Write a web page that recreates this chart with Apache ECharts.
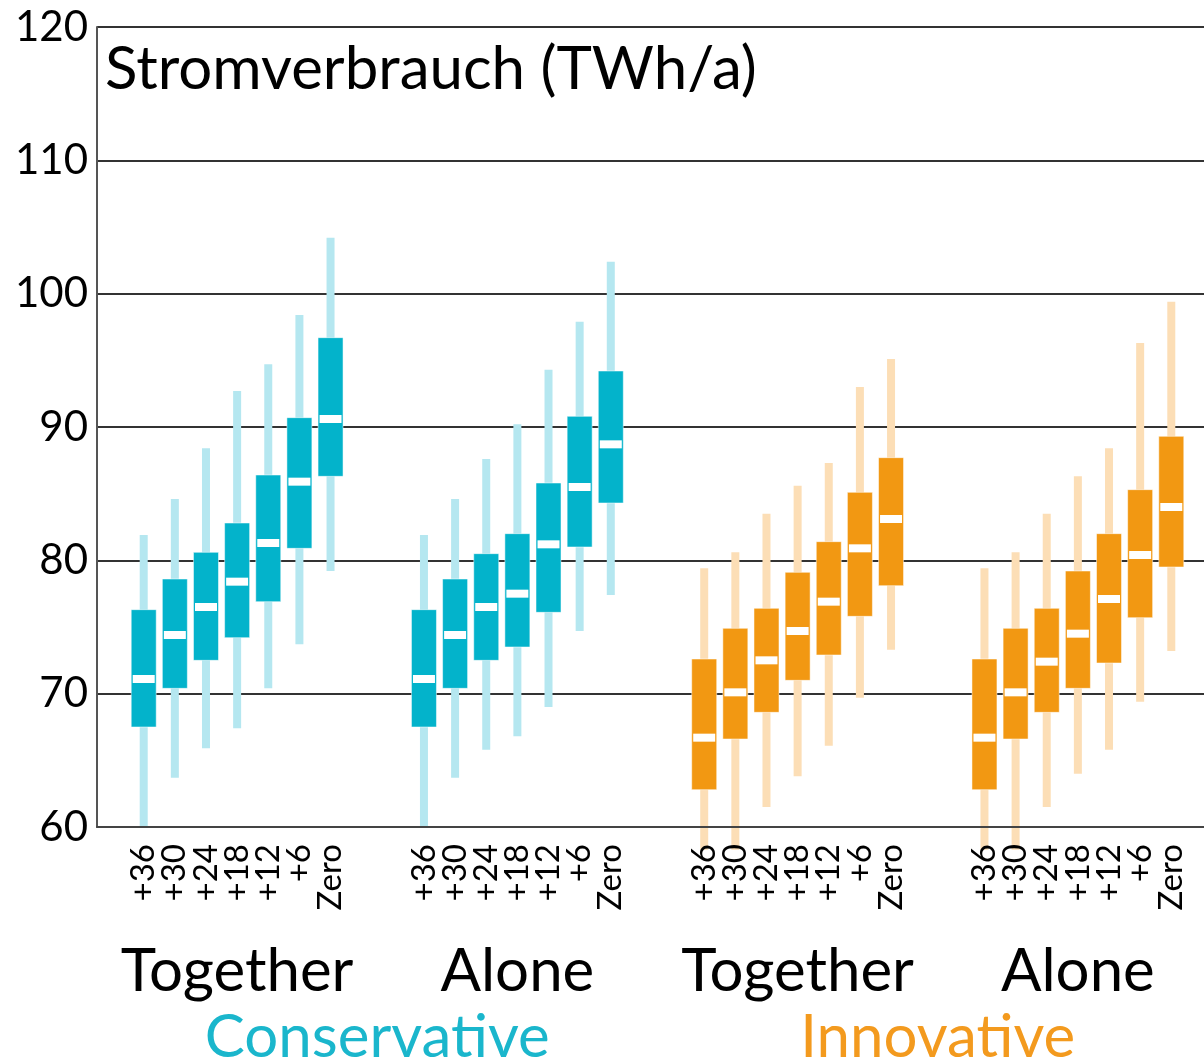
<!DOCTYPE html>
<html>
<head>
<meta charset="utf-8">
<script src="https://cdn.jsdelivr.net/npm/echarts@6/dist/echarts.min.js"></script>
<style>
  html, body { margin: 0; padding: 0; background: #fff; overflow: hidden; }
  #main { width: 1218px; height: 1062px; }
</style>
</head>
<body>
<div id="main"></div>
<script>
// Szenarien je Gruppe
const scenarios = ["+36", "+30", "+24", "+18", "+12", "+6", "Zero"];
const groupNames = ["Together", "Alone", "Together", "Alone"];
const familyNames = ["Conservative", "Innovative"];
const yTicks = [60, 70, 80, 90, 100, 110, 120];

// [min, q1, median, q3, max] je Szenario
const consTogether = [
  [60.0, 67.5, 71.1, 76.3, 81.9],
  [63.7, 70.4, 74.4, 78.6, 84.6],
  [65.9, 72.5, 76.5, 80.6, 88.4],
  [67.4, 74.2, 78.4, 82.8, 92.7],
  [70.4, 76.9, 81.3, 86.4, 94.7],
  [73.7, 80.9, 85.9, 90.7, 98.4],
  [79.2, 86.3, 90.6, 96.7, 104.2]
];
const consAlone = [
  [60.0, 67.5, 71.1, 76.3, 81.9],
  [63.7, 70.4, 74.4, 78.6, 84.6],
  [65.8, 72.5, 76.5, 80.5, 87.6],
  [66.8, 73.5, 77.5, 82.0, 90.2],
  [69.0, 76.1, 81.2, 85.8, 94.3],
  [74.7, 81.0, 85.5, 90.8, 97.9],
  [77.4, 84.3, 88.7, 94.2, 102.4]
];
const innTogether = [
  [58.3, 62.8, 66.7, 72.6, 79.4],
  [58.3, 66.6, 70.1, 74.9, 80.6],
  [61.5, 68.6, 72.5, 76.4, 83.5],
  [63.8, 71.0, 74.7, 79.1, 85.6],
  [66.1, 72.9, 76.9, 81.4, 87.3],
  [69.7, 75.8, 80.9, 85.1, 93.0],
  [73.3, 78.1, 83.1, 87.7, 95.1]
];
const innAlone = [
  [58.3, 62.8, 66.7, 72.6, 79.4],
  [58.3, 66.6, 70.1, 74.9, 80.6],
  [61.5, 68.6, 72.4, 76.4, 83.5],
  [64.0, 70.4, 74.5, 79.2, 86.3],
  [65.8, 72.3, 77.1, 82.0, 88.4],
  [69.4, 75.7, 80.4, 85.3, 96.3],
  [73.2, 79.5, 84.0, 89.3, 99.4]
];

const FONT = "Lato";
const colors = {
  cons: { box: "#03b3cb", whisker: "#b5e7f0", text: "#1ab6cc" },
  inn: { box: "#f29812", whisker: "#fcdeb6", text: "#f39a1e" }
};

// Kategorien: leere Plätze zwischen den Gruppen
const groupStart = [1, 10, 19, 28];
const categories = [];
for (let i = 0; i < 36; i++) categories.push("");
groupStart.forEach(function (s) {
  scenarios.forEach(function (name, k) { categories[s + k] = name; });
});

function toData(groups) {
  const out = [];
  groups.forEach(function (g) {
    g.rows.forEach(function (r, k) {
      out.push([g.start + k].concat(r));
    });
  });
  return out;
}

function makeRender(c) {
  return function (params, api) {
    const x = api.value(0);
    const lo = api.coord([x, api.value(1)]);
    const q1 = api.coord([x, api.value(2)]);
    const md = api.coord([x, api.value(3)]);
    const q3 = api.coord([x, api.value(4)]);
    const hi = api.coord([x, api.value(5)]);
    return {
      type: "group",
      children: [
        { type: "rect", shape: { x: lo[0] - 4, y: hi[1], width: 8, height: lo[1] - hi[1] }, style: { fill: c.whisker } },
        { type: "rect", shape: { x: q1[0] - 12.5, y: q3[1], width: 25, height: q1[1] - q3[1] }, style: { fill: c.box, stroke: "rgba(255,255,255,0.5)", lineWidth: 1 } },
        { type: "rect", shape: { x: md[0] - 11, y: md[1] - 4, width: 22, height: 8 }, style: { fill: "#fff" } }
      ]
    };
  };
}

const chart = echarts.init(document.getElementById("main"));

const option = {
  animation: false,
  grid: { left: 97, right: 0, top: 27, bottom: 235, containLabel: false },
  xAxis: {
    type: "category",
    data: categories,
    z: 5,
    axisTick: { show: false },
    axisLine: { lineStyle: { color: "#444", width: 2 } },
    axisLabel: {
      interval: 0,
      rotate: 90,
      margin: 17,
      fontFamily: FONT,
      fontSize: 33,
      color: "#000"
    }
  },
  yAxis: {
    type: "value",
    min: 60,
    max: 120,
    interval: 10,
    axisLine: { show: true, lineStyle: { color: "#555", width: 2 } },
    axisTick: { show: false },
    axisLabel: {
      margin: 9,
      fontFamily: FONT,
      fontSize: 42,
      color: "#000",
      formatter: function (v) { return yTicks.indexOf(v) >= 0 ? String(v) : ""; }
    },
    splitLine: { lineStyle: { color: "#333", width: 2 } }
  },
  series: [
    {
      name: familyNames[0],
      type: "custom",
      clip: false,
      z: 2,
      renderItem: makeRender(colors.cons),
      encode: { x: 0, y: [1, 2, 3, 4, 5] },
      data: toData([
        { start: groupStart[0], rows: consTogether },
        { start: groupStart[1], rows: consAlone }
      ])
    },
    {
      name: familyNames[1],
      type: "custom",
      clip: false,
      z: 2,
      renderItem: makeRender(colors.inn),
      encode: { x: 0, y: [1, 2, 3, 4, 5] },
      data: toData([
        { start: groupStart[2], rows: innTogether },
        { start: groupStart[3], rows: innAlone }
      ])
    }
  ]
};

chart.setOption(option);

// Beschriftungen unter den Gruppen
const px = function (i) { return chart.convertToPixel({ xAxisIndex: 0 }, i); };
const centers = groupStart.map(function (s) { return px(s + 3); });
const graphics = [
  {
    type: "text", left: 105, top: 40, z: 10,
    style: { text: "Stromverbrauch (TWh/a)", fontFamily: FONT, fontSize: 60, fill: "#000" }
  }
];
groupNames.forEach(function (name, i) {
  graphics.push({
    type: "text", x: centers[i], y: 972, z: 10,
    style: { text: name, fontFamily: FONT, fontSize: 60, fill: "#000", align: "center", verticalAlign: "middle" }
  });
});
familyNames.forEach(function (name, i) {
  const c = i === 0 ? colors.cons : colors.inn;
  graphics.push({
    type: "text", x: (centers[2 * i] + centers[2 * i + 1]) / 2, y: 1038, z: 10,
    style: { text: name, fontFamily: FONT, fontSize: 60, fill: c.text, align: "center", verticalAlign: "middle" }
  });
});
chart.setOption({ graphic: graphics });
</script>
</body>
</html>
